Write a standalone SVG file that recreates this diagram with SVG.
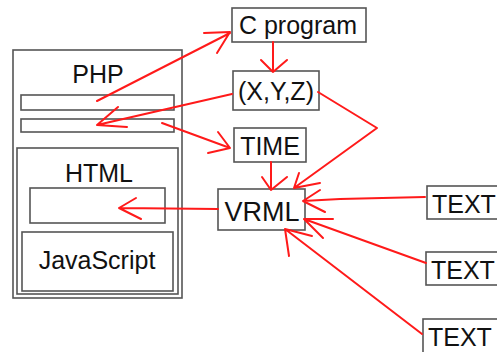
<svg xmlns="http://www.w3.org/2000/svg" width="497" height="352" viewBox="0 0 497 352">
<style>
.box{fill:#fff;stroke:#555;stroke-width:1.6}
.t{font-family:"Liberation Sans","DejaVu Sans",sans-serif;font-size:25px;fill:#111}
.c{text-anchor:middle}
.r{fill:none;stroke:#ff1a1a;stroke-width:2;stroke-linecap:round;stroke-linejoin:round}
</style>
<rect width="497" height="352" fill="#fff"/>
<g id="php">
<rect class="box" x="13" y="50" width="169" height="248"/>
<text class="t c" x="98" y="83">PHP</text>
<rect class="box" x="21" y="95" width="153" height="15"/>
<rect class="box" x="21" y="119" width="153" height="13"/>
</g>
<g id="html">
<rect class="box" x="17" y="148" width="161" height="146"/>
<text class="t c" x="99" y="182">HTML</text>
<rect class="box" x="30" y="188" width="135" height="35"/>
</g>
<g id="javascript">
<rect class="box" x="22" y="232" width="151" height="59"/>
<text class="t c" x="97" y="269">JavaScript</text>
</g>
<g id="cprogram">
<rect class="box" x="232" y="8" width="134" height="34"/>
<text class="t c" x="298" y="34">C program</text>
</g>
<g id="xyz">
<rect class="box" x="233" y="71" width="86" height="39"/>
<text class="t c" x="276" y="100">(X,Y,Z)</text>
</g>
<g id="time">
<rect class="box" x="234" y="128" width="72" height="34"/>
<text class="t c" x="270" y="155">TIME</text>
</g>
<g id="vrml">
<rect class="box" x="218" y="189" width="87" height="41"/>
<text class="t c" x="262" y="221" style="font-size:27px">VRML</text>
</g>
<g id="text1">
<rect class="box" x="427" y="186" width="80" height="33"/>
<text class="t" x="432" y="213">TEXT</text>
</g>
<g id="text2">
<rect class="box" x="426" y="252" width="80" height="33"/>
<text class="t" x="431" y="279">TEXT</text>
</g>
<g id="text3">
<rect class="box" x="423" y="319" width="80" height="40"/>
<text class="t" x="428" y="346">TEXT</text>
</g>
<g id="connectors">
<path class="r" d="M97,101 L230,33 M204,33 L230,32 L217,53"/>
<path class="r" d="M273,42 L273,72 M261,60 L273,72 L287,60"/>
<path class="r" d="M232,94 L97,125 L118,107 M97,125 L127,127"/>
<path class="r" d="M162,123 L230,148 L218,132 M230,148 L208,153"/>
<path class="r" d="M271,162 L271,190 M262,177 L271,190 L287,177"/>
<path class="r" d="M318,92 L377,128 L294,188 M299,173 L294,188 L320,183"/>
<path class="r" d="M425,197 L340,199 L303,201 M320,190 L303,201 L325,212"/>
<path class="r" d="M426,263 L304,219 L333,219 M304,219 L323,238"/>
<path class="r" d="M422,334 L285,229 L312,236 M285,229 L289,256"/>
<path class="r" d="M218,209 L119,208 L136,198 M119,208 L141,219"/>
</g>
</svg>
